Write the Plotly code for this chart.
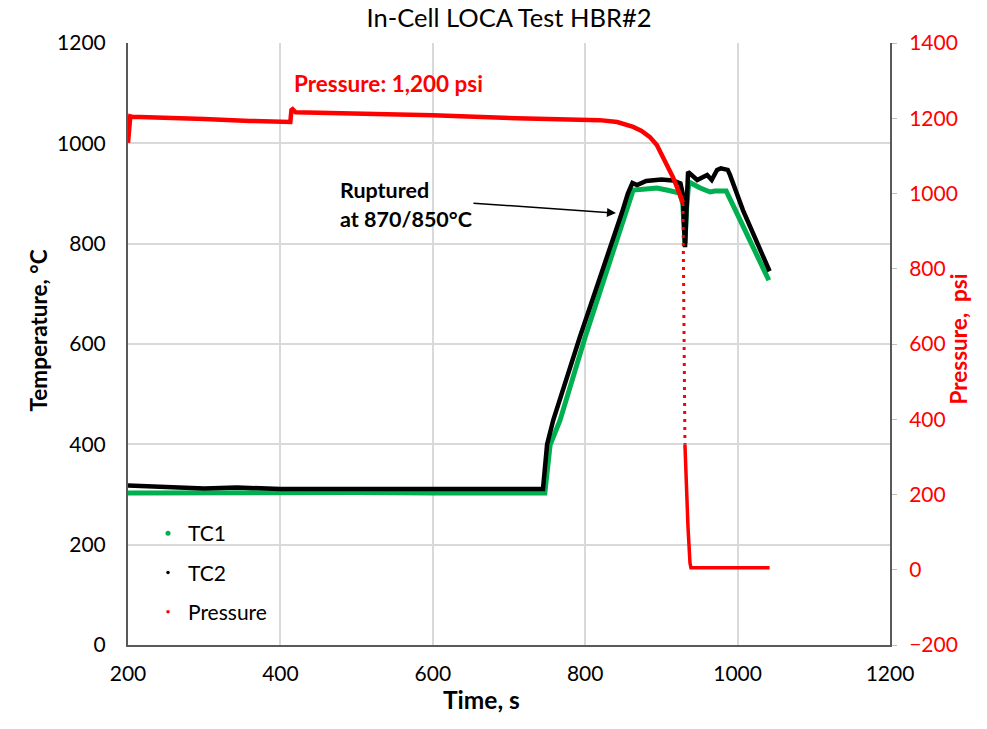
import plotly.graph_objects as go

# ---------------- data ----------------
tc1_time = [200, 300, 400, 500, 600, 700, 745, 747, 754, 767, 800, 853, 863, 880, 894, 910, 924,
            928, 930, 931, 933, 936, 951, 964, 970, 985, 999, 1020, 1041]
tc1_temp = [303, 304, 303, 304, 303, 303, 303, 303, 399, 448, 614, 861, 907, 909, 911, 906, 901,
            880, 830, 801, 870, 923, 911, 903, 905, 905, 861, 795, 727]

tc2_time = [200, 215, 262, 300, 343, 400, 500, 600, 700, 744.6, 750, 758, 793, 848, 856, 862, 868,
            880, 900, 915, 925, 928, 931, 933, 935, 947, 960, 966, 973, 978, 987, 990, 1007, 1042]
tc2_temp = [318, 317, 315, 312, 314, 311, 311, 310, 311, 311, 400, 448, 614, 861, 900, 921, 917,
            925, 928, 926, 920, 900, 793, 870, 943, 927, 937, 927, 947, 950, 947, 937, 867, 745]

p_time = [200, 201, 203, 205, 250, 300, 360, 413, 414.5, 416, 420, 513, 600, 710, 800, 819, 842,
          863, 874, 885, 894, 902, 909, 915, 922, 928.3]
p_psi = [1135, 1170, 1205, 1204, 1202, 1198, 1193, 1190, 1222, 1224, 1216, 1213, 1208, 1200, 1198,
         1195, 1190, 1177, 1166, 1150, 1129, 1098, 1071, 1044, 1009, 975]

drop_time = [928.3, 930.9]
drop_psi = [975, 332]

tail_time = [930.9, 932.2, 934.9, 937.5, 938.8, 1042]
tail_psi = [332, 238, 114, 18, 5, 5]

x_ticks = [200, 400, 600, 800, 1000, 1200]
y_ticks = [0, 200, 400, 600, 800, 1000, 1200]
y2_ticks = [-200, 0, 200, 400, 600, 800, 1000, 1200, 1400]

GREEN = "#00B050"
RED = "#FF0000"
FONT = "Lato"

# pixel helpers for layout (plot area: x 128..890, y 43..645)
L, R, T, B = 128, 890, 43, 645
W, H = 987, 729


def px_x(p):
    return (p - L) / (R - L)


def px_y(p):
    return (B - p) / (B - T)


fig = go.Figure()

fig.add_trace(go.Scatter(x=tc1_time, y=tc1_temp, mode="lines", line=dict(color=GREEN, width=5),
                         showlegend=False, yaxis="y"))
fig.add_trace(go.Scatter(x=tc2_time, y=tc2_temp, mode="lines", line=dict(color="black", width=4.5),
                         showlegend=False, yaxis="y"))
fig.add_trace(go.Scatter(x=p_time, y=p_psi, mode="lines", line=dict(color=RED, width=4.5),
                         showlegend=False, yaxis="y2"))
fig.add_trace(go.Scatter(x=drop_time, y=drop_psi, mode="lines",
                         line=dict(color=RED, width=3, dash="3px,5px"),
                         showlegend=False, yaxis="y2"))
fig.add_trace(go.Scatter(x=tail_time, y=tail_psi, mode="lines", line=dict(color=RED, width=3.5),
                         showlegend=False, yaxis="y2"))

# legend entries (marker style like the reference)
for name, col, sz in [("TC1", GREEN, 5), ("TC2", "black", 3.5), ("Pressure", RED, 3.5)]:
    fig.add_trace(go.Scatter(x=[None], y=[None], mode="markers", name=name,
                             marker=dict(color=col, size=sz), legendgroup=name, yaxis="y"))

axis_font = dict(family=FONT, size=21, color="black")

fig.update_layout(
    width=W, height=H,
    margin=dict(l=L, r=W - R, t=T, b=H - B),
    paper_bgcolor="white", plot_bgcolor="white",
    font=dict(family=FONT, size=20, color="black"),
    title=dict(text="In-Cell LOCA Test HBR#2", x=(L + R) / 2 / W, xanchor="center",
               y=1 - 18 / H, yanchor="middle", font=dict(family=FONT, size=25.5, color="black")),
    xaxis=dict(range=[200, 1200], tickvals=x_ticks, showgrid=True, gridcolor="#D9D9D9", gridwidth=1.5,
               showline=True, linecolor="#595959", linewidth=2, zeroline=False,
               ticks="outside", ticklen=9, tickcolor="rgba(0,0,0,0)", tickfont=axis_font),
    yaxis=dict(range=[0, 1200], tickvals=y_ticks, showgrid=True, gridcolor="#D9D9D9", gridwidth=1.5,
               showline=True, linecolor="#595959", linewidth=2, zeroline=False,
               ticks="outside", ticklen=16, tickcolor="rgba(0,0,0,0)", tickfont=axis_font),
    yaxis2=dict(range=[-200, 1400], tickvals=y2_ticks, overlaying="y", side="right", showgrid=False,
                showline=True, linecolor="#595959", linewidth=2, zeroline=False,
                ticks="outside", ticklen=5, tickcolor="#BFBFBF",
                ticklabelstandoff=8,
                tickfont=dict(family=FONT, size=21, color=RED)),
    legend=dict(x=px_x(148), y=px_y(513), xanchor="left", yanchor="top",
                bgcolor="rgba(0,0,0,0)", font=dict(family=FONT, size=21, color="black"),
                tracegroupgap=9, itemsizing="trace"),
    showlegend=True,
)

annotations = [
    dict(text="<b>Temperature, °C</b>", x=px_x(22), y=px_y(330), xref="paper", yref="paper",
         textangle=-90, showarrow=False, font=dict(family=FONT, size=22.5, color="black")),
    dict(text="<b>Pressure,\u00a0 psi</b>", x=px_x(973), y=px_y(339), xref="paper", yref="paper",
         textangle=-90, showarrow=False, font=dict(family=FONT, size=22.5, color=RED)),
    dict(text="<b>Time, s</b>", x=px_x(481), y=px_y(716), xref="paper", yref="paper",
         showarrow=False, font=dict(family=FONT, size=24.5, color="black")),
    dict(text="<b>Pressure: 1,200 psi</b>", x=542.5, y=1120, xref="x", yref="y",
         showarrow=False, font=dict(family=FONT, size=22.5, color=RED)),
    dict(text="<b>Ruptured</b>", x=475.5, y=907, xref="x", yref="y", xanchor="left",
         showarrow=False, font=dict(family=FONT, size=21.5, color="black")),
    dict(text="<b>at 870/850°C</b>", x=475.5, y=849, xref="x", yref="y", xanchor="left",
         showarrow=False, font=dict(family=FONT, size=21.5, color="black")),
    dict(text="", x=840.4, y=861, ax=651.4, ay=881, xref="x", yref="y", axref="x", ayref="y",
         showarrow=True, arrowhead=2, arrowsize=1.2, arrowwidth=1.5, arrowcolor="black", standoff=0),
]
fig.update_layout(annotations=annotations)

fig.write_html("out.html")
